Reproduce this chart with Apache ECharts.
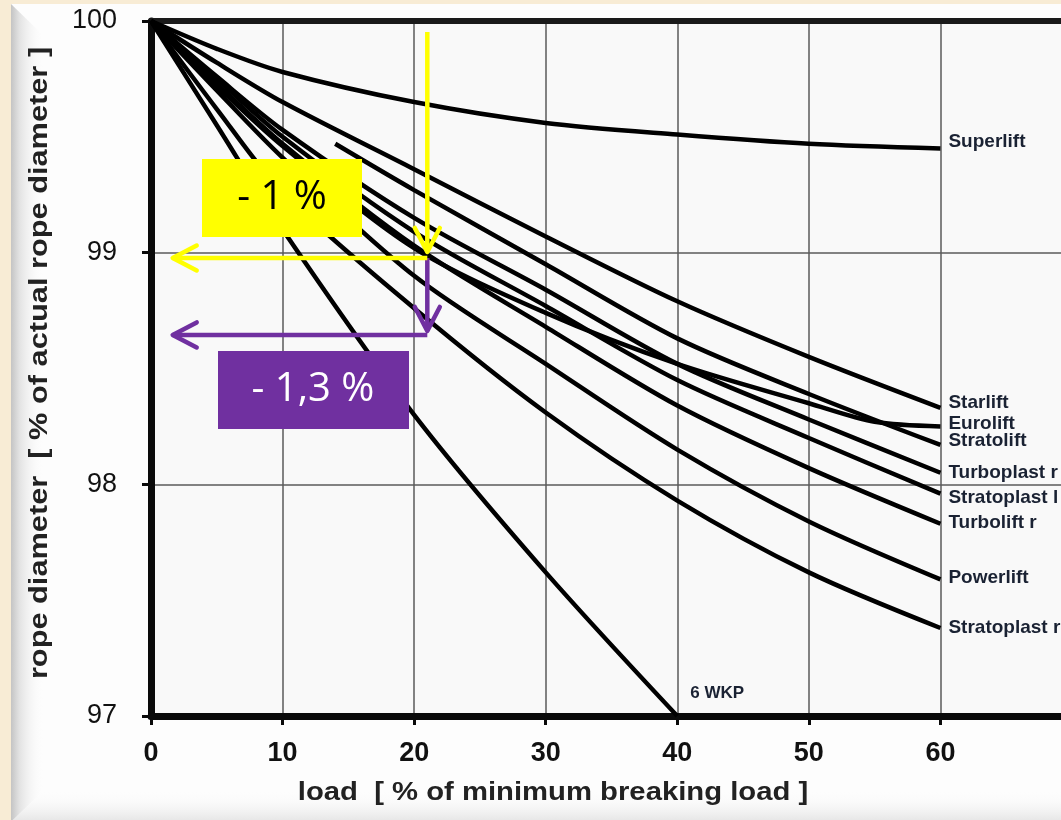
<!DOCTYPE html>
<html><head><meta charset="utf-8">
<script src="https://cdn.jsdelivr.net/npm/echarts@6/dist/echarts.min.js"></script>
<style>
html,body{margin:0;padding:0;overflow:hidden;background:#f8ecd5;width:1061px;height:820px}
#c{width:1072px;height:820px}
</style></head><body><div id="c"></div>
<script>
// ---- data (load % of MBL  vs  rope diameter %) ----
const loads            = [0, 5, 10, 20, 30, 40, 50, 60];
const euroliftLoads    = [0, 5, 10, 20, 30, 40, 50, 55, 60];
const stratoliftLoads  = [14, 20, 30, 40, 50, 60];
const wkpLoads         = [0, 5, 10, 20, 30, 40];

const superlift    = [100, 99.88, 99.78, 99.65, 99.56, 99.51, 99.47, 99.45];
const starlift     = [100, 99.82, 99.65, 99.36, 99.07, 98.79, 98.55, 98.33];
const eurolift     = [100, 99.72, 99.46, 99.02, 98.74, 98.52, 98.35, 98.27, 98.25];
const stratolift   = [99.47, 99.27, 98.95, 98.63, 98.39, 98.17];
const turboplastR  = [100, 99.76, 99.53, 99.15, 98.84, 98.52, 98.28, 98.05];
const stratoplastL = [100, 99.75, 99.50, 99.09, 98.77, 98.45, 98.20, 97.96];
const turboliftR   = [100, 99.73, 99.47, 99.03, 98.68, 98.34, 98.07, 97.83];
const powerlift    = [100, 99.70, 99.41, 98.90, 98.52, 98.15, 97.84, 97.59];
const stratoplastR = [100, 99.62, 99.26, 98.76, 98.31, 97.93, 97.62, 97.38];
const wkp6         = [100, 99.55, 99.10, 98.30, 97.62, 97.00];

const xTickLabels = ['0', '10', '20', '30', '40', '50', '60'];
const yTickLabels = ['97', '98', '99', '100'];

// annotation arrows: [fromLoad, fromDia, toLoad, toDia]
const arrowsYellow = [[21, 99.953, 21, 99.003], [21, 98.977, 1.65, 98.977]];
const arrowsPurple = [[21, 98.977, 21, 98.662], [21, 98.645, 1.65, 98.645]];
const annotationTexts = ['- 1 %', '- 1,3 %'];
const annotationColors = ['#ffff00', '#7030a0'];

// ---- chart ----
const zip = (xs, ys) => xs.map((x, i) => [x, ys[i]]);
const FONT = '"Liberation Sans", Arial, sans-serif';

function lineSeries(name, xs, ys, dy, extra) {
  return Object.assign({
    name, type: 'line', data: zip(xs, ys),
    showSymbol: false, smooth: 0.3,
    lineStyle: { color: '#000', width: 4.5 },
    endLabel: {
      show: true, formatter: '{a}', distance: 8, offset: [0, dy],
      color: '#1a2233', fontFamily: FONT, fontWeight: 'bold', fontSize: 19
    },
    emphasis: { disabled: true }, z: 3
  }, extra || {});
}

const arrowData = arrowsPurple.map(a => a.concat([1])).concat(arrowsYellow.map(a => a.concat([0])));

const chart = echarts.init(document.getElementById('c'), null, { renderer: 'canvas' });
chart.setOption({
  animation: false,
  backgroundColor: 'transparent',
  graphic: [
    { type: 'rect', z: -10, shape: { x: 11, y: 4, width: 1070, height: 820 }, style: { fill: '#fdfdfd' } },
    { type: 'polygon', z: -9, shape: { points: [[11, 4], [44, 36], [44, 790], [11, 822]] },
      style: { fill: new echarts.graphic.LinearGradient(0, 0, 1, 0, [
        { offset: 0, color: '#c4c4c4' }, { offset: 0.25, color: '#e2e2e2' }, { offset: 1, color: 'rgba(253,253,253,0)' }]) } },
    { type: 'polygon', z: -9, shape: { points: [[11, 822], [44, 790], [1080, 790], [1080, 822]] },
      style: { fill: new echarts.graphic.LinearGradient(0, 0, 0, 1, [
        { offset: 0, color: 'rgba(253,253,253,0)' }, { offset: 1, color: '#e4e4e4' }]) } },
    { type: 'text', z: 5, x: 40, y: 363, rotation: Math.PI / 2, scaleX: 1.23,
      style: { text: 'rope diameter  [ % of actual rope diameter ]', font: 'bold 25px ' + FONT,
        fill: '#222', align: 'center', verticalAlign: 'middle' } },
    { type: 'text', z: 5, x: 553, y: 793, scaleX: 1.17,
      style: { text: 'load  [ % of minimum breaking load ]', font: 'bold 25px ' + FONT,
        fill: '#222', align: 'center', verticalAlign: 'middle' } },
    { type: 'rect', z: 50, shape: { x: 202, y: 159, width: 160, height: 78 }, style: { fill: annotationColors[0] } },
    { type: 'text', z: 51, x: 282, y: 198,
      style: { text: annotationTexts[0], font: '40px "Open Sans", sans-serif', fill: '#000', align: 'center', verticalAlign: 'middle' } },
    { type: 'rect', z: 50, shape: { x: 218, y: 351, width: 191, height: 78 }, style: { fill: annotationColors[1] } },
    { type: 'text', z: 51, x: 313, y: 390,
      style: { text: annotationTexts[1], font: '40px "Open Sans", sans-serif', fill: '#fff', align: 'center', verticalAlign: 'middle' } }
  ],
  grid: { left: 151, right: 0, top: 21, bottom: 104, show: true, backgroundColor: '#f9f9f9', borderWidth: 0 },
  xAxis: [{
    type: 'value', min: 0, max: 70, interval: 10,
    axisLine: { show: true, onZero: false, lineStyle: { color: '#0a0a0a', width: 7 } },
    axisTick: { show: true, length: 9, lineStyle: { color: '#0a0a0a', width: 3 } },
    axisLabel: { margin: 24, showMaxLabel: false, color: '#111', fontFamily: FONT, fontWeight: 'bold', fontSize: 27,
      formatter: v => xTickLabels[v / 10] !== undefined ? xTickLabels[v / 10] : '' },
    splitLine: { show: true, lineStyle: { color: '#5a5a5a', width: 1.5 } }
  }, {
    type: 'value', position: 'top', min: 0, max: 70, interval: 10,
    axisLine: { show: true, onZero: false, lineStyle: { color: '#1a1a1a', width: 6 } },
    axisTick: { show: false }, axisLabel: { show: false }, splitLine: { show: false }
  }],
  yAxis: {
    type: 'value', min: 97, max: 100, interval: 1,
    axisLine: { show: true, onZero: false, lineStyle: { color: '#0a0a0a', width: 7 } },
    axisTick: { show: true, length: 9, lineStyle: { color: '#0a0a0a', width: 3 } },
    axisLabel: { margin: 34, color: '#111', fontFamily: FONT, fontSize: 27,
      formatter: v => yTickLabels[Math.round(v - 97)] },
    splitLine: { show: true, lineStyle: { color: '#5a5a5a', width: 1.5 } }
  },
  series: [
    lineSeries('Superlift', loads, superlift, -7),
    lineSeries('Starlift', loads, starlift, -5),
    lineSeries('Eurolift', euroliftLoads, eurolift, -3),
    lineSeries('Stratolift', stratoliftLoads, stratolift, -4),
    lineSeries('Turboplast r', loads, turboplastR, 0),
    lineSeries('Stratoplast l', loads, stratoplastL, 4),
    lineSeries('Turbolift r', loads, turboliftR, -1),
    lineSeries('Powerlift', loads, powerlift, -2),
    lineSeries('Stratoplast r', loads, stratoplastR, 0),
    lineSeries('6 WKP', wkpLoads, wkp6, -23, { endLabel: {
      show: true, formatter: '{a}', distance: 5, offset: [8, -23],
      color: '#1a2233', fontFamily: FONT, fontWeight: 'bold', fontSize: 17 } }),
    {
      type: 'custom', name: 'annotations', data: arrowData, clip: false, z: 20, silent: true,
      encode: { x: [0, 2], y: [1, 3] },
      renderItem: function (params, api) {
        const p1 = api.coord([api.value(0), api.value(1)]);
        const p2 = api.coord([api.value(2), api.value(3)]);
        const color = annotationColors[api.value(4)];
        const dx = p2[0] - p1[0], dy = p2[1] - p1[1];
        const L = Math.sqrt(dx * dx + dy * dy) || 1;
        const ux = dx / L, uy = dy / L, nx = -uy, ny = ux;
        const back = 24, half = 12.5;
        const a = [p2[0] - ux * back + nx * half, p2[1] - uy * back + ny * half];
        const b = [p2[0] - ux * back - nx * half, p2[1] - uy * back - ny * half];
        return {
          type: 'group', children: [
            { type: 'line', shape: { x1: p1[0], y1: p1[1], x2: p2[0], y2: p2[1] },
              style: { stroke: color, lineWidth: 4.5, lineCap: 'butt' } },
            { type: 'polyline', shape: { points: [a, p2, b] },
              style: { stroke: color, fill: null, lineWidth: 4.5, lineCap: 'round', lineJoin: 'round' } }
          ]
        };
      }
    }
  ]
});
</script></body></html>
